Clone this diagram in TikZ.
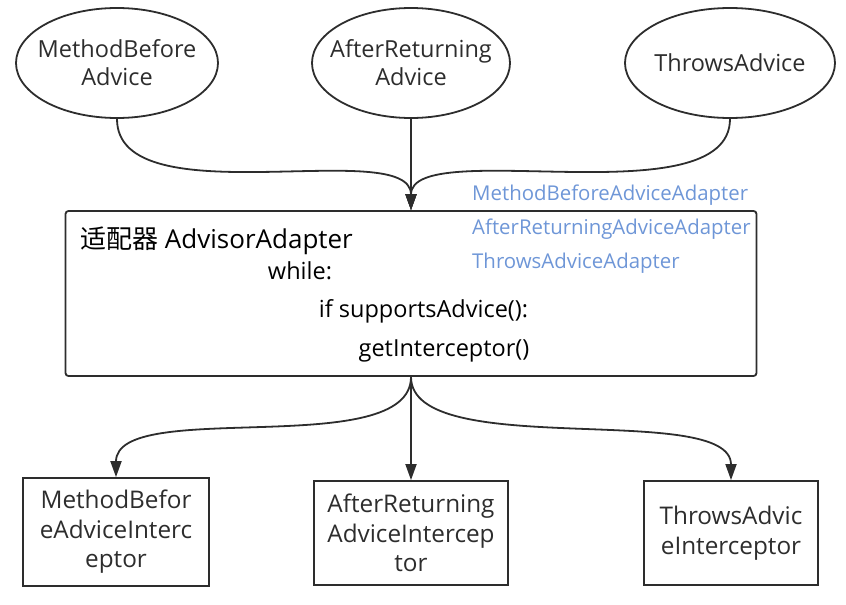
\documentclass[tikz,border=0pt]{standalone}
\usepackage{fontspec}
\setmainfont{Open Sans}
\newfontfamily\cjk{Noto Sans CJK SC}
\usetikzlibrary{arrows.meta,shapes.geometric}
\definecolor{adblue}{RGB}{110,150,215}
\definecolor{ink}{RGB}{45,45,45}
\begin{document}
\begin{tikzpicture}[x=1pt,y=-1pt,
  ell/.style={draw=ink, line width=1.8pt, ellipse, inner sep=0pt, minimum width=202pt, minimum height=110pt},
  etext/.style={inner sep=0pt, align=center, text=ink, font=\fontsize{23.5}{28}\selectfont},
  ibox/.style={draw=ink, line width=1.8pt, inner sep=0pt, align=center, text=ink, font=\fontsize{24.3}{29.5}\selectfont},
  arr/.style={draw=ink, line width=1.8pt, -{Triangle[length=16pt,width=11pt]}},
  code/.style={inner sep=0pt, text=black, font=\fontsize{23.5}{26}\selectfont},
  blue/.style={inner sep=0pt, anchor=west, text=adblue, font=\fontsize{20.4}{24}\selectfont}
]
\useasboundingbox (0,0) rectangle (846,605);
\node[ell] (e1) at (117,63) {};
\node[etext] (e1t) at (e1.center) {MethodBefore\\Advice};
\node[ell, minimum width=198pt] (e2) at (411,63) {};
\node[etext] (e2t) at (e2.center) {AfterReturning\\Advice};
\node[ell, minimum width=210pt] (e3) at (730,63) {};
\node[etext] (e3t) at (e3.center) {ThrowsAdvice};

\node[draw=ink, line width=1.8pt, rounded corners=3pt, minimum width=691pt, minimum height=165pt, inner sep=0pt] (box) at (411,293.5) {};
\node[inner sep=0pt, anchor=west, text=black, font=\fontsize{26}{30}\selectfont] (title) at (80,241) {{\cjk 适配器} AdvisorAdapter};
\node[code] (w) at (300,271) {while:};
\node[code] (ifs) at (423.5,311) {if supportsAdvice():};
\node[code] (gi) at (444,351) {getInterceptor()};

\node[blue] (a1) at (472,195) {MethodBeforeAdviceAdapter};
\node[blue] (a2) at (472,229) {AfterReturningAdviceAdapter};
\node[blue] (a3) at (472,263) {ThrowsAdviceAdapter};

\node[ibox, minimum width=186pt, minimum height=108pt] (b1) at (116,532) {MethodBefor\\eAdviceInterc\\eptor};
\node[ibox, minimum width=194pt, minimum height=104pt] (b2) at (411,533) {AfterReturning\\AdviceIntercep\\tor};
\node[ibox, minimum width=174pt, minimum height=104pt] (b3) at (731,533) {ThrowsAdvic\\eInterceptor};

\draw[arr] (e1.south) .. controls +(0,100) and +(0,-75) .. (box.north);
\draw[arr] (e2.south) -- (box.north);
\draw[arr] (e3.south) .. controls +(0,100) and +(0,-75) .. (box.north);

\draw[arr] (box.south) .. controls +(0,85) and +(0,-80) .. (b1.north);
\draw[arr] (box.south) -- (b2.north);
\draw[arr] (box.south) .. controls +(0,85) and +(0,-80) .. (b3.north);
\end{tikzpicture}
\end{document}
